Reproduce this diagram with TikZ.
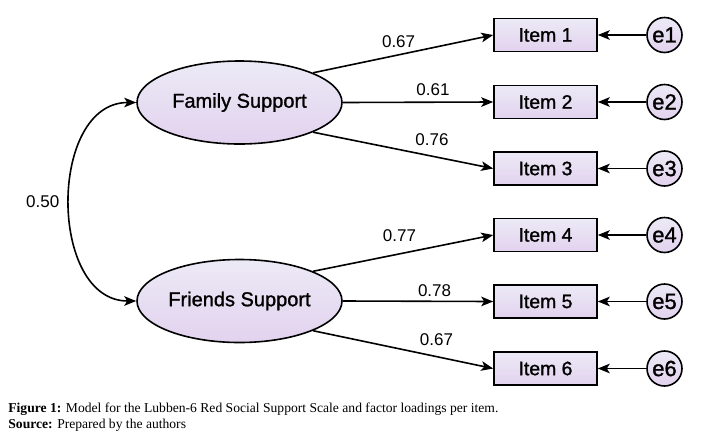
\documentclass[tikz,border=0pt]{standalone}
\usepackage{fontspec}
\setmainfont{Liberation Serif}
\setsansfont{Liberation Sans}
\newfontfamily\semsans[FakeBold=1.2]{Liberation Sans}
\usepackage{tikz}
\usetikzlibrary{positioning,arrows.meta,shapes.geometric}
\usepackage{xcolor}
\definecolor{lavtop}{RGB}{236,234,246}
\definecolor{lavbot}{RGB}{226,210,238}

\begin{document}
\begin{tikzpicture}[x=0.5pt,y=-0.5pt,
    latent/.style={ellipse, draw, line width=0.8pt, top color=lavtop, bottom color=lavbot,
        minimum width=102.5pt, minimum height=41.5pt, inner sep=0pt,
        font=\semsans\fontsize{10}{12}\selectfont},
    itembox/.style={rectangle, draw, line width=0.8pt, top color=lavtop, bottom color=lavbot,
        minimum width=51.5pt, minimum height=16.5pt, inner sep=0pt,
        font=\semsans\fontsize{9.7}{11}\selectfont},
    errnode/.style={circle, draw, line width=0.8pt, top color=lavtop, bottom color=lavbot,
        minimum size=17.5pt, inner sep=0pt, font=\semsans\fontsize{11}{13}\selectfont},
    load/.style={draw, line width=0.8pt, -{Stealth[length=6pt,width=4.8pt,inset=1.5pt]}},
    cov/.style={draw, line width=0.8pt,
        {Stealth[length=6pt,width=4.8pt,inset=1.5pt]}-{Stealth[length=6pt,width=4.8pt,inset=1.5pt]}},
    coef/.style={font=\sffamily\fontsize{8.5}{10}\selectfont, inner sep=1pt},
    capline/.style={anchor=west, inner sep=0pt, font=\fontsize{6.8}{8}\selectfont}
]
    \fill[white] (0,0) rectangle (713,440);
    \useasboundingbox (0,0) rectangle (713,440);

    % Latent factors
    \node[latent] (fam) at (239.5,102.5) {Family Support};
    \node[latent] (fri) at (239.5,301) {Friends Support};

    % Observed items and their errors
    \foreach \i/\y in {1/35, 2/102, 3/168.5, 4/235, 5/301.5, 6/368.5} {
        \node[itembox] (it\i) at (545.5,\y) {Item \i};
        \node[errnode] (e\i) at (664.5,\y) {e\i};
        \draw[load] (e\i) -- (it\i);
    }

    % Factor loadings
    \draw[load] (fam.22) -- node[coef, pos=0.475, above=1.95pt] {0.67} (it1.west);
    \draw[load] (fam.east) -- node[coef, pos=0.6, above=1.95pt] {0.61} (it2.west);
    \draw[load] (fam.-22) -- node[coef, pos=0.66, above=3.8pt] {0.76} (it3.west);
    \draw[load] (fri.22) -- node[coef, pos=0.48, above=4.95pt] {0.77} (it4.west);
    \draw[load] (fri.east) -- node[coef, pos=0.61, above=0.7pt] {0.78} (it5.west);
    \draw[load] (fri.-22) -- node[coef, pos=0.685, above=4.3pt] {0.67} (it6.west);

    % Covariance between factors
    \draw[cov] (fam.west) .. controls (48,102.5) and (48,301) .. node[coef, left=4pt] {0.50} (fri.west);

    % Caption
    \node[capline] (cap1) at (8,409) {\textbf{Figure 1:} Model for the Lubben-6 Red Social Support Scale and factor loadings per item.};
    \node[capline] (cap2) at (8,425) {\textbf{Source:} Prepared by the authors};
\end{tikzpicture}
\end{document}
